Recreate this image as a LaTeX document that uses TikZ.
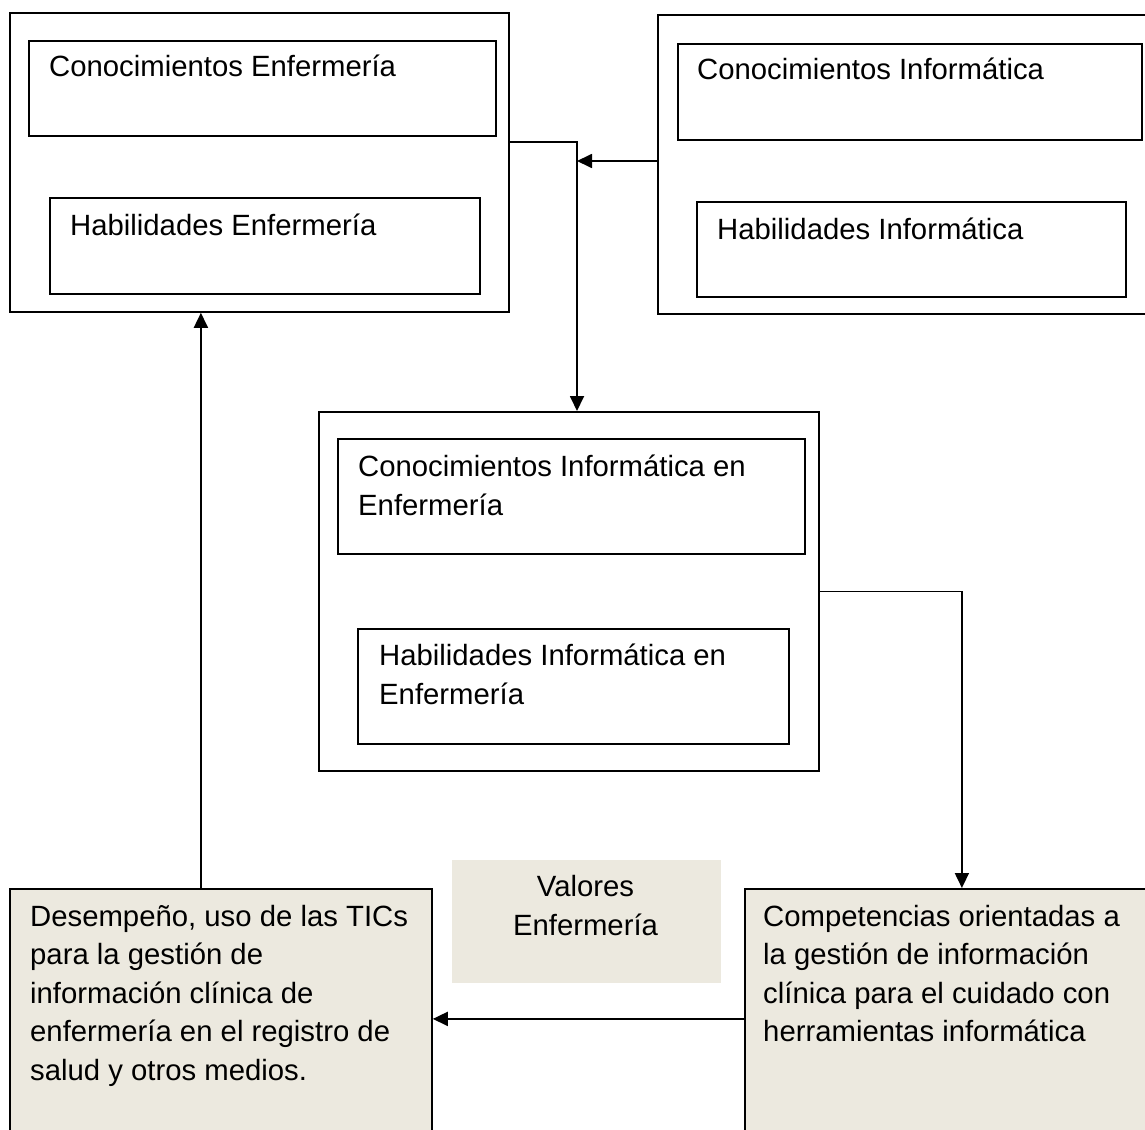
\documentclass[tikz,border=0pt]{standalone}
\usepackage{fontspec}
\setmainfont{Liberation Sans}
\usetikzlibrary{arrows.meta,positioning}
\definecolor{boxfill}{RGB}{236,233,223}

\tikzset{
  frame/.style={draw, line width=1.8pt, inner sep=0pt, anchor=north west},
  shadebox/.style={frame, fill=boxfill},
  lbl/.style={anchor=base west, inner sep=0pt, align=left, font=\fontsize{29.3}{38.5}\selectfont},
  conn/.style={line width=1.8pt},
  arr/.style={conn, -{Triangle[length=15pt,width=14pt]}}
}

\begin{document}
\begin{tikzpicture}[x=1pt,y=-1pt]
\clip (0,0) rectangle (1145,1129);
% enfermeria
\node[frame, minimum width=499, minimum height=299] (enf) at (9,12) {};
\node[frame, minimum width=467, minimum height=95] (conenf) at (28,40) {};
\node[lbl] (conenftxt) at (49,77) {Conocimientos Enfermería};
\node[frame, minimum width=430, minimum height=96] (habenf) at (49,197) {};
\node[lbl] (habenftxt) at (70,235) {Habilidades Enfermería};
% informatica
\node[frame, minimum width=520, minimum height=299] (inf) at (657,14) {};
\node[frame, minimum width=464, minimum height=96] (coninf) at (677,43) {};
\node[lbl] (coninftxt) at (697,80) {Conocimientos Informática};
\node[frame, minimum width=429, minimum height=95] (habinf) at (696,201) {};
\node[lbl] (habinftxt) at (717,239) {Habilidades Informática};
% informatica en enfermeria (base = ultima linea)
\node[frame, minimum width=500, minimum height=359] (mid) at (318,411) {};
\node[frame, minimum width=467, minimum height=115] (conie) at (337,438) {};
\node[lbl] (conietxt) at (358,515) {Conocimientos Informática en\\Enfermería};
\node[frame, minimum width=431, minimum height=115] (habie) at (357,628) {};
\node[lbl] (habietxt) at (379,704) {Habilidades Informática en\\Enfermería};
% abajo
\node[shadebox, minimum width=422, minimum height=260] (desemp) at (9,888) {};
\node[lbl] (desemptxt) at (30,1080) {Desempeño, uso de las TICs\\para la gestión de\\información clínica de\\enfermería en el registro de\\salud y otros medios.};
\node[shadebox, draw=none, minimum width=269, minimum height=123] (val) at (451,859) {};
\node[lbl, anchor=base, align=center] (valtxt) at (585.5,935) {Valores\\Enfermería};
\node[shadebox, minimum width=434, minimum height=260] (comp) at (744,888) {};
\node[lbl] (comptxt) at (763,1041.5) {Competencias orientadas a\\la gestión de información\\clínica para el cuidado con\\herramientas informática};

\coordinate (junc) at (577,161);
\draw[conn] ([yshift=20.5pt]enf.east) -| (junc);
\draw[arr] (junc) -- (mid.north -| junc);
\draw[arr] (inf.west |- junc) -- (junc);
\draw[arr] (mid.east) -| (comp.north);
\draw[arr] (comp.west) -- (desemp.east);
\draw[arr] ([xshift=-20pt]desemp.north) -- ([xshift=-20pt]desemp.north |- enf.south);
\end{tikzpicture}
\end{document}
